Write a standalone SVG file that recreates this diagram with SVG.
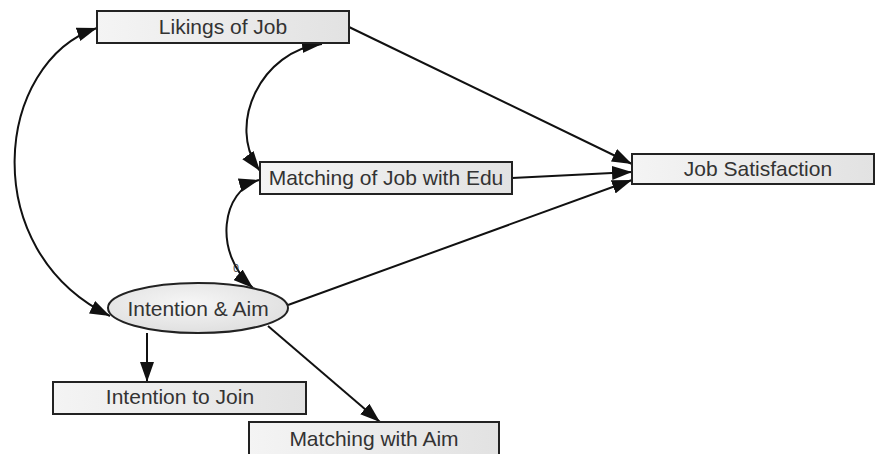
<svg xmlns="http://www.w3.org/2000/svg" width="875" height="454" viewBox="0 0 875 454">
  <defs>
    <linearGradient id="boxFill" x1="0" y1="0" x2="1" y2="0">
      <stop offset="0" stop-color="#f4f4f4"/>
      <stop offset="1" stop-color="#e2e2e2"/>
    </linearGradient>
    <radialGradient id="ovalFill" cx="0.45" cy="0.4" r="0.7">
      <stop offset="0" stop-color="#f6f6f6"/>
      <stop offset="1" stop-color="#dcdcdc"/>
    </radialGradient>
    <marker id="head" viewBox="0 0 20 14" refX="20" refY="7" markerWidth="20" markerHeight="14" markerUnits="userSpaceOnUse" orient="auto-start-reverse">
      <path d="M0,0 L20,7 L0,14 Z" fill="#111"/>
    </marker>
  </defs>
  <style>
    .box { fill: url(#boxFill); stroke: #222; stroke-width: 2; }
    .oval { fill: url(#ovalFill); stroke: #222; stroke-width: 2; }
    .label { font-family: "Liberation Sans", Arial, sans-serif; font-size: 21px; fill: #333; text-anchor: middle; }
    .small { font-family: "Liberation Sans", Arial, sans-serif; font-size: 10px; fill: #333; text-anchor: middle; }
    .edge { fill: none; stroke: #111; stroke-width: 2; }
  </style>
  <rect width="875" height="454" fill="#fff"/>

  <g id="connectors">
    <!-- two-way curves (covariances) -->
    <path class="edge" marker-start="url(#head)" marker-end="url(#head)" d="M97,28 C-5,62 -25,250 110,316"/>
    <path class="edge" marker-start="url(#head)" marker-end="url(#head)" d="M322,44 C262,50 225,125 260,171"/>
    <path class="edge" marker-start="url(#head)" marker-end="url(#head)" d="M259,180 C222,190 212,252 253,288"/>
    <!-- one-way paths -->
    <path class="edge" marker-end="url(#head)" d="M349,27 L632,164"/>
    <path class="edge" marker-end="url(#head)" d="M512,178 L632,172"/>
    <path class="edge" marker-end="url(#head)" d="M288,305 L632,180"/>
    <path class="edge" marker-end="url(#head)" d="M147,333 L147,382"/>
    <path class="edge" marker-end="url(#head)" d="M268,326 L380,422"/>
    <text class="small" x="236" y="272">0</text>
  </g>

  <g id="likings-of-job">
    <rect class="box" x="97" y="11" width="252" height="32"/>
    <text class="label" x="223" y="34">Likings of Job</text>
  </g>

  <g id="matching-job-edu">
    <rect class="box" x="260" y="162" width="252" height="32"/>
    <text class="label" x="386" y="185">Matching of Job with Edu</text>
  </g>

  <g id="job-satisfaction">
    <rect class="box" x="632" y="154" width="242" height="30"/>
    <text class="label" x="758" y="176">Job Satisfaction</text>
  </g>

  <g id="intention-aim">
    <ellipse class="oval" cx="198" cy="308" rx="90" ry="25"/>
    <text class="label" x="198" y="316">Intention &amp; Aim</text>
  </g>

  <g id="intention-to-join">
    <rect class="box" x="53" y="382" width="253" height="32"/>
    <text class="label" x="180" y="404">Intention to Join</text>
  </g>

  <g id="matching-with-aim">
    <rect class="box" x="249" y="422" width="250" height="40"/>
    <text class="label" x="374" y="446">Matching with Aim</text>
  </g>
</svg>
